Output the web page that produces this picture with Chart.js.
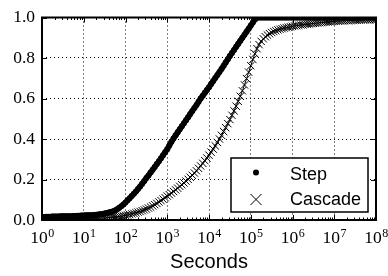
<!DOCTYPE html>
<html><head><meta charset="utf-8">
<script src="https://cdn.jsdelivr.net/npm/chart.js@4.4.0/dist/chart.umd.min.js"></script>
<style>html,body{margin:0;padding:0;background:#fff;}canvas{display:block;}</style>
</head><body>
<canvas id="c" width="388" height="276"></canvas>
<script>
// log10 of time in seconds for each sample
const timeExponents = [
  0,0.05,0.1,0.15,0.2,0.25,0.3,0.35,0.4,0.45,
  0.5,0.55,0.6,0.65,0.7,0.75,0.8,0.85,0.9,0.95,
  1,1.05,1.1,1.15,1.2,1.25,1.3,1.35,1.4,1.45,
  1.5,1.55,1.6,1.65,1.7,1.75,1.8,1.85,1.9,1.95,
  2,2.05,2.1,2.15,2.2,2.25,2.3,2.35,2.4,2.45,
  2.5,2.55,2.6,2.65,2.7,2.75,2.8,2.85,2.9,2.95,
  3,3.05,3.1,3.15,3.2,3.25,3.3,3.35,3.4,3.45,
  3.5,3.55,3.6,3.65,3.7,3.75,3.8,3.85,3.9,3.95,
  4,4.05,4.1,4.15,4.2,4.25,4.3,4.35,4.4,4.45,
  4.5,4.55,4.6,4.65,4.7,4.75,4.8,4.85,4.9,4.95,
  5,5.05,5.1,5.15,5.2,5.25,5.3,5.35,5.4,5.45,
  5.5,5.55,5.6,5.65,5.7,5.75,5.8,5.85,5.9,5.95,
  6,6.05,6.1,6.15,6.2,6.25,6.3,6.35,6.4,6.45,
  6.5,6.55,6.6,6.65,6.7,6.75,6.8,6.85,6.9,6.95,
  7,7.05,7.1,7.15,7.2,7.25,7.3,7.35,7.4,7.45,
  7.5,7.55,7.6,7.65,7.7,7.75,7.8,7.85,7.9,7.95,
  8
];
const stepFraction = [
  0.015,0.015,0.016,0.016,0.016,0.017,0.017,0.017,0.017,0.018,
  0.018,0.018,0.019,0.019,0.019,0.020,0.020,0.021,0.021,0.022,
  0.022,0.023,0.023,0.024,0.024,0.025,0.026,0.027,0.028,0.030,
  0.032,0.034,0.037,0.040,0.043,0.047,0.053,0.060,0.068,0.077,
  0.087,0.097,0.108,0.119,0.130,0.141,0.153,0.166,0.179,0.193,
  0.207,0.220,0.234,0.248,0.262,0.276,0.290,0.305,0.320,0.335,
  0.350,0.368,0.386,0.402,0.418,0.433,0.448,0.463,0.478,0.493,
  0.508,0.523,0.538,0.553,0.568,0.584,0.600,0.614,0.628,0.642,
  0.656,0.671,0.686,0.701,0.716,0.731,0.746,0.762,0.778,0.794,
  0.810,0.825,0.840,0.855,0.870,0.885,0.900,0.915,0.930,0.945,
  0.960,0.975,0.990,1,1,1,1,1,1,1,
  1,1,1,1,1,1,1,1,1,1,
  1,1,1,1,1,1,1,1,1,1,
  1,1,1,1,1,1,1,1,1,1,
  1,1,1,1,1,1,1,1,1,1,
  1,1,1,1,1,1,1,1,1,1,
  1
];
const cascadeFraction = [
  0.004,0.004,0.004,0.004,0.004,0.004,0.005,0.005,0.005,0.005,
  0.005,0.005,0.005,0.005,0.006,0.006,0.006,0.006,0.006,0.006,
  0.007,0.007,0.007,0.007,0.008,0.008,0.008,0.009,0.009,0.010,
  0.010,0.011,0.012,0.013,0.014,0.015,0.016,0.018,0.019,0.021,
  0.023,0.025,0.027,0.030,0.033,0.036,0.039,0.042,0.046,0.050,
  0.054,0.059,0.064,0.070,0.076,0.082,0.089,0.096,0.103,0.110,
  0.118,0.125,0.133,0.141,0.149,0.157,0.166,0.174,0.183,0.192,
  0.201,0.211,0.221,0.232,0.243,0.255,0.267,0.280,0.293,0.306,
  0.320,0.335,0.350,0.366,0.383,0.400,0.418,0.437,0.456,0.476,
  0.496,0.517,0.539,0.562,0.586,0.611,0.638,0.667,0.698,0.730,
  0.762,0.793,0.821,0.846,0.866,0.882,0.895,0.905,0.913,0.920,
  0.926,0.931,0.935,0.939,0.942,0.945,0.948,0.950,0.952,0.954,
  0.956,0.958,0.960,0.961,0.963,0.964,0.966,0.967,0.968,0.970,
  0.971,0.972,0.973,0.974,0.975,0.976,0.977,0.978,0.979,0.980,
  0.981,0.982,0.982,0.983,0.984,0.984,0.985,0.985,0.986,0.986,
  0.987,0.987,0.988,0.988,0.988,0.989,0.989,0.989,0.990,0.990,
  0.990
];
const seriesNames = ['Step', 'Cascade'];
const xTickExponents = [0,1,2,3,4,5,6,7,8];
const yTickValues = [0, 0.2, 0.4, 0.6, 0.8, 1.0];
const xAxisTitle = 'Seconds';

const SERIF = '"Liberation Serif", "Times New Roman", serif';
const SANS = '"Liberation Sans", Arial, sans-serif';

const toPoints = ys => ys.map((y, i) => ({ x: Math.pow(10, timeExponents[i]), y }));

const framePlugin = {
  id: 'frame',
  afterDatasetsDraw(chart) {
    const { ctx, chartArea: a, scales: { x, y } } = chart;
    ctx.save();
    ctx.strokeStyle = '#000';
    ctx.lineWidth = 1;
    ctx.beginPath();
    xTickExponents.forEach(e => {
      const px = Math.round(x.getPixelForValue(Math.pow(10, e))) + 0.5;
      ctx.moveTo(px, a.bottom); ctx.lineTo(px, a.bottom - 5);
      ctx.moveTo(px, a.top); ctx.lineTo(px, a.top + 5);
      if (e < xTickExponents[xTickExponents.length - 1]) {
        for (let m = 2; m <= 9; m++) {
          const p = Math.round(x.getPixelForValue(m * Math.pow(10, e))) + 0.5;
          ctx.moveTo(p, a.bottom); ctx.lineTo(p, a.bottom - 2.5);
          ctx.moveTo(p, a.top); ctx.lineTo(p, a.top + 2.5);
        }
      }
    });
    yTickValues.forEach(v => {
      const py = Math.round(y.getPixelForValue(v)) + 0.5;
      ctx.moveTo(a.left, py); ctx.lineTo(a.left + 5, py);
      ctx.moveTo(a.right, py); ctx.lineTo(a.right - 5, py);
    });
    ctx.stroke();
    ctx.lineWidth = 2;
    ctx.strokeRect(a.left, a.top, a.right - a.left, a.bottom - a.top);
    ctx.restore();
  },
  afterDraw(chart) {
    const { ctx, chartArea: a, scales: { x } } = chart;
    ctx.save();
    ctx.fillStyle = '#000';
    ctx.textBaseline = 'alphabetic';
    ctx.textAlign = 'left';
    // x tick labels: 10 with superscript exponent
    xTickExponents.forEach(e => {
      const px = x.getPixelForValue(Math.pow(10, e));
      ctx.font = '17.5px ' + SERIF;
      const w1 = ctx.measureText('10').width;
      ctx.font = '12px ' + SERIF;
      const w2 = ctx.measureText(String(e)).width;
      const start = px - (w1 + w2) / 2;
      ctx.font = '17.5px ' + SERIF;
      ctx.fillText('10', start, a.bottom + 23);
      ctx.font = '12px ' + SERIF;
      ctx.fillText(String(e), start + w1 + 0.5, a.bottom + 16.5);
    });
    // legend
    const bx = a.right - 145, by = a.bottom - 62, bw = 137, bh = 54;
    ctx.fillStyle = '#fff';
    ctx.fillRect(bx, by, bw, bh);
    ctx.strokeStyle = '#000';
    ctx.lineWidth = 1.5;
    ctx.strokeRect(bx, by, bw, bh);
    ctx.fillStyle = '#000';
    const mx = bx + 25;
    ctx.beginPath();
    ctx.arc(mx, by + 14.5, 3, 0, Math.PI * 2);
    ctx.fill();
    const cy = by + 41.5, r = 5.5;
    ctx.lineWidth = 1;
    ctx.beginPath();
    ctx.moveTo(mx - r, cy - r); ctx.lineTo(mx + r, cy + r);
    ctx.moveTo(mx - r, cy + r); ctx.lineTo(mx + r, cy - r);
    ctx.stroke();
    ctx.font = '18px ' + SANS;
    const names = chart.data.datasets.map(d => d.label);
    ctx.fillText(names[0], bx + 59, by + 22);
    ctx.fillText(names[1], bx + 59, by + 47);
    ctx.restore();
  }
};

new Chart(document.getElementById('c'), {
  type: 'scatter',
  data: {
    datasets: [
      {
        label: seriesNames[0], data: toPoints(stepFraction), showLine: true,
        borderColor: '#000', backgroundColor: '#000', borderWidth: 5.5,
        borderJoinStyle: 'round', borderCapStyle: 'round',
        pointRadius: 3, pointStyle: 'circle', pointBorderWidth: 0, clip: 0
      },
      {
        label: seriesNames[1], data: toPoints(cascadeFraction), showLine: true,
        borderColor: '#000', backgroundColor: '#000', borderWidth: 1,
        pointRadius: 5.2, pointStyle: 'crossRot', pointBorderWidth: 1, clip: 0
      }
    ]
  },
  options: {
    responsive: false,
    animation: false,
    devicePixelRatio: 1,
    layout: { padding: { top: 15, right: 12, bottom: 0, left: 0 } },
    plugins: { legend: { display: false }, tooltip: { enabled: false } },
    scales: {
      x: {
        type: 'logarithmic', min: 1, max: 1e8,
        afterBuildTicks: s => { s.ticks = xTickExponents.map(e => ({ value: Math.pow(10, e) })); },
        ticks: { display: false },
        grid: { color: '#000', lineWidth: 1, drawTicks: false },
        border: { display: false, dash: [1, 3] },
        title: { display: true, text: xAxisTitle, color: '#000', font: { family: SANS, size: 20 }, padding: { top: 0, bottom: 2 } },
        afterFit: s => { s.height = 56; }
      },
      y: {
        min: 0, max: 1,
        afterBuildTicks: s => { s.ticks = yTickValues.map(v => ({ value: v })); },
        ticks: { callback: v => v.toFixed(1), color: '#000', font: { family: SERIF, size: 17.5 }, padding: 7 },
        grid: { color: '#000', lineWidth: 1, drawTicks: false },
        border: { display: false, dash: [1, 3] },
        afterFit: s => { s.width = 42; }
      }
    }
  },
  plugins: [framePlugin]
});
</script>
</body></html>
